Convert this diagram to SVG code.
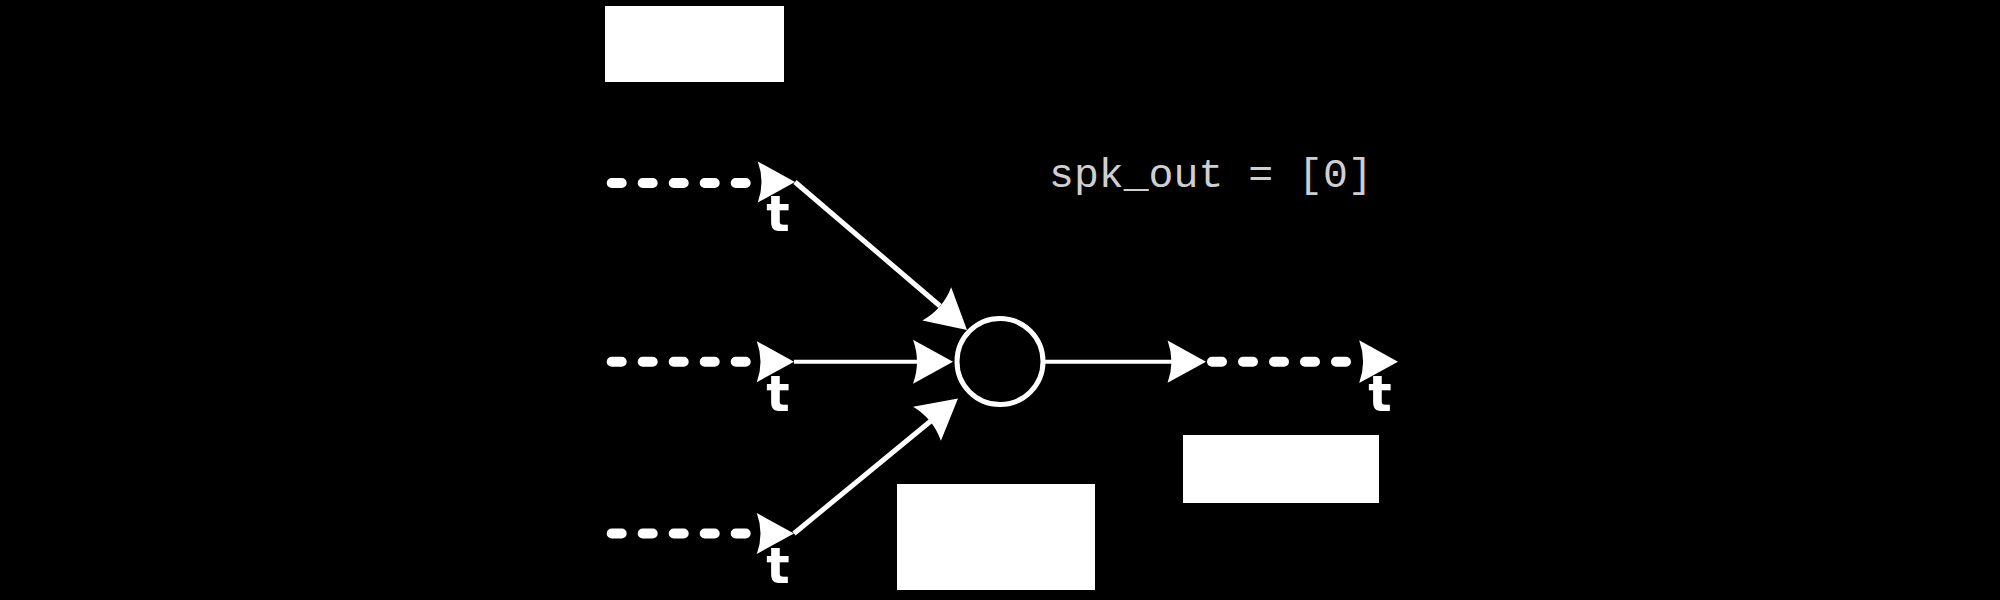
<svg xmlns="http://www.w3.org/2000/svg" xmlns:xlink="http://www.w3.org/1999/xlink" width="2000" height="600" viewBox="0 0 2000 600">
  <style>
    .box { fill: #ffffff; }
    .wire { stroke: #ffffff; stroke-width: 5; fill: none; }
    .wire-h { stroke: #ffffff; stroke-width: 4; fill: none; }
    .dots { stroke: #ffffff; stroke-width: 10; stroke-linecap: round; stroke-dasharray: 10 21; fill: none; }
    .head { fill: #ffffff; }
    .tlabel { font-family: "DejaVu Sans", "Liberation Sans", sans-serif; font-weight: bold; font-size: 49px; fill: #ffffff; text-anchor: middle; }
    .code { font-family: "Liberation Mono", "DejaVu Sans Mono", monospace; font-size: 41.5px; fill: #cfcfcf; }
  </style>
  <defs>
    <path id="arrow" d="M0,0 L-40,-22 Q-32,0 -40,22 Z"/>
  </defs>
  <rect width="2000" height="600" fill="#000000"/>

  <g id="box-top"><rect class="box" x="605" y="6" width="179" height="76"/></g>
  <g id="box-bottom"><rect class="box" x="897" y="484" width="198" height="106"/></g>
  <g id="box-right"><rect class="box" x="1183" y="435" width="196" height="68"/></g>

  <g id="label-spk"><text class="code" x="1049" y="187">spk_out = [0]</text></g>

  <g id="input-1">
    <line class="dots" x1="611.7" y1="183" x2="745.7" y2="183"/>
    <use href="#arrow" xlink:href="#arrow" class="head" transform="translate(795,182) scale(0.93)"/>
    <text class="tlabel" x="778" y="231">t</text>
  </g>
  <g id="input-2">
    <line class="dots" x1="611.7" y1="361.7" x2="745.7" y2="361.7"/>
    <use href="#arrow" xlink:href="#arrow" class="head" transform="translate(794,361.7) scale(0.93)"/>
    <text class="tlabel" x="778" y="411">t</text>
  </g>
  <g id="input-3">
    <line class="dots" x1="611.7" y1="533.5" x2="745.7" y2="533.5"/>
    <use href="#arrow" xlink:href="#arrow" class="head" transform="translate(794,533.5) scale(0.93)"/>
    <text class="tlabel" x="778" y="583">t</text>
  </g>

  <g id="neuron"><circle cx="1000" cy="361.5" r="43" fill="none" stroke="#ffffff" stroke-width="5"/></g>

  <g id="output">
    <line class="dots" x1="1212" y1="361.7" x2="1346" y2="361.7"/>
    <use href="#arrow" xlink:href="#arrow" class="head" transform="translate(1398,361.7) scale(0.97)"/>
    <text class="tlabel" x="1380" y="411">t</text>
  </g>

  <g id="connectors">
    <line class="wire" x1="795" y1="182" x2="940" y2="306"/>
    <use href="#arrow" xlink:href="#arrow" class="head" transform="translate(967,330) rotate(40.9)"/>
    <line class="wire-h" x1="794" y1="361.7" x2="922" y2="361.7"/>
    <use href="#arrow" xlink:href="#arrow" class="head" transform="translate(953,361.7)"/>
    <line class="wire" x1="794" y1="533.5" x2="932" y2="420"/>
    <use href="#arrow" xlink:href="#arrow" class="head" transform="translate(958,398.5) rotate(-39.2)"/>
    <line class="wire-h" x1="1045" y1="361.7" x2="1176" y2="361.7"/>
    <use href="#arrow" xlink:href="#arrow" class="head" transform="translate(1206,361.7) scale(0.96)"/>
  </g>
</svg>
